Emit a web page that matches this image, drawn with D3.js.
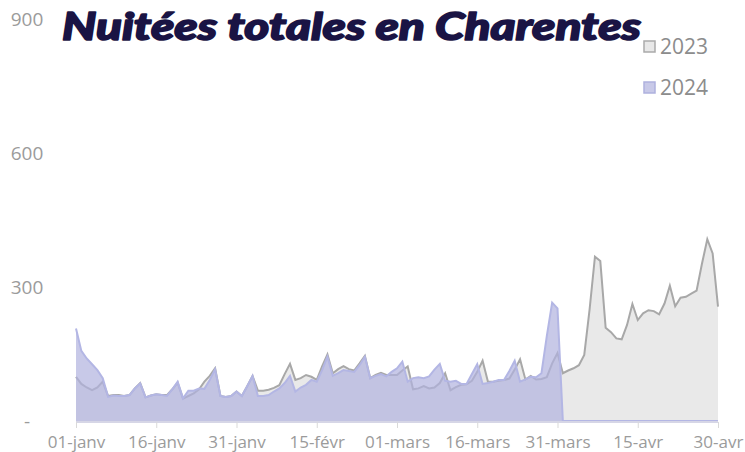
<!DOCTYPE html>
<html>
<head>
<meta charset="utf-8">
<script src="https://cdn.jsdelivr.net/npm/d3@7"></script>
<style>
  body { margin: 0; background: #fff; }
  text { font-family: "Open Sans", "Noto Sans", sans-serif; }
</style>
</head>
<body>
<div id="chart"></div>
<script>
// nuitées par jour, 01-janv -> 30-avr
var series2023 = [
  99, 83, 75, 69, 75, 88, 56, 58, 58, 56,
  58, 73, 85, 53, 57, 60, 58, 58, 71, 86,
  50, 56, 62, 71, 88, 101, 118, 56, 54, 56,
  66, 56, 78, 101, 68, 68, 70, 74, 80, 105,
  128, 92, 96, 103, 99, 92, 122, 149, 107, 116,
  123, 116, 113, 129, 146, 96, 103, 108, 103, 103,
  103, 113, 122, 71, 73, 78, 73, 75, 85, 107,
  69, 76, 81, 82, 90, 110, 135, 88, 88, 90,
  92, 95, 115, 138, 93, 101, 93, 94, 98, 129,
  152, 107, 113, 118, 125, 148, 250, 368, 358, 209,
  199, 185, 183, 215, 262, 226, 241, 248, 246, 239,
  263, 303, 257, 276, 278, 285, 292, 352, 407, 375,
  256
];
var series2024 = [
  207, 157, 140, 127, 114, 96, 54, 57, 56, 56,
  58, 73, 84, 53, 57, 60, 58, 56, 71, 88,
  51, 68, 68, 73, 72, 92, 116, 56, 54, 56,
  66, 56, 78, 101, 56, 56, 58, 66, 73, 85,
  101, 66, 75, 81, 92, 88, 114, 144, 101, 107,
  114, 112, 110, 125, 144, 96, 101, 105, 100, 110,
  118, 133, 88, 96, 98, 96, 100, 115, 128, 90,
  88, 90, 83, 83, 105, 127, 83, 85, 88, 92,
  92, 112, 135, 88, 93, 99, 98, 107, 190, 265,
  252, 0, 0, 0, 0, 0, 0, 0, 0, 0,
  0, 0, 0, 0, 0, 0, 0, 0, 0, 0,
  0, 0, 0, 0, 0, 0, 0, 0, 0, 0,
  0
];
var tickLabels = ["01-janv", "16-janv", "31-janv", "15-févr", "01-mars", "16-mars", "31-mars", "15-avr", "30-avr"];
var yTicks = [0, 300, 600, 900];
var years = ["2023", "2024"];

var width = 745, height = 452;
var start = new Date(Date.UTC(2024, 0, 1));
var days = d3.utcDay.range(start, new Date(Date.UTC(2024, 4, 1)));
var tickDates = days.filter(function(d, i) { return i % 15 === 0; });

var x = d3.scaleUtc()
  .domain([days[0], days[days.length - 1]])
  .range([76, 718]);

var y = d3.scaleLinear()
  .domain([0, 900])
  .range([421, 19]);

var svg = d3.select("#chart").append("svg")
  .attr("width", width)
  .attr("height", height);

// y labels, le zéro s'affiche "-"
svg.append("g").selectAll("text")
  .data(yTicks)
  .enter().append("text")
    .attr("x", 27)
    .attr("y", function(d) { return y(d); })
    .attr("dy", "0.35em")
    .attr("text-anchor", "middle")
    .style("font-size", "19px")
    .style("fill", "#9b9b9b")
    .text(function(d) { return d === 0 ? "-" : d; });

var area = d3.area()
  .x(function(d, i) { return x(days[i]); })
  .y0(y(0))
  .y1(function(d) { return y(d); });

var line = d3.line()
  .x(function(d, i) { return x(days[i]); })
  .y(function(d) { return y(d); });

var plot = svg.append("g");

plot.append("path")
  .datum(series2023)
  .attr("d", area)
  .style("fill", "#e9e9e9");

plot.append("path")
  .datum(series2023)
  .attr("d", line)
  .style("fill", "none")
  .style("stroke", "#a8a8a8")
  .style("stroke-width", 2);

plot.append("path")
  .datum(series2024)
  .attr("d", area)
  .style("fill", "#b0b2de")
  .style("fill-opacity", 0.7);

plot.append("path")
  .datum(series2024)
  .attr("d", line)
  .style("fill", "none")
  .style("stroke", "#b3b6e4")
  .style("stroke-width", 2);

// x axis
var xAxis = svg.append("g")
  .attr("transform", "translate(0," + 422 + ")")
  .call(d3.axisBottom(x)
    .tickValues(tickDates)
    .tickSize(6)
    .tickFormat(function(d, i) { return tickLabels[i]; }));

xAxis.select(".domain").style("stroke", "#d6d6e6").style("stroke-width", 2).attr("d", "M76,0H718");
xAxis.selectAll(".tick line").style("stroke", "#d9d9d9");
xAxis.selectAll(".tick text")
  .attr("y", 14)
  .style("font-family", "'Open Sans', sans-serif")
  .style("font-size", "17px")
  .style("fill", "#9b9b9b");

// title
svg.append("text")
  .attr("x", 62)
  .attr("y", 40)
  .attr("textLength", 579)
  .attr("lengthAdjust", "spacingAndGlyphs")
  .style("font-family", "Lato, 'Open Sans', sans-serif")
  .style("font-weight", 900)
  .style("font-style", "italic")
  .style("font-size", "38px")
  .style("fill", "#1a1444")
  .style("stroke", "#1a1444")
  .style("stroke-width", 1.6)
  .style("stroke-linejoin", "round")
  .text("Nuitées totales en Charentes");

// legend
var legend = svg.append("g").selectAll("g")
  .data(years)
  .enter().append("g")
    .attr("transform", function(d, i) { return "translate(644," + (41 + i * 41) + ")"; });

legend.append("rect")
  .attr("width", 11)
  .attr("height", 11)
  .style("fill", function(d, i) { return i ? "#c8c9e8" : "#e8e8e8"; })
  .style("stroke", function(d, i) { return i ? "#aeb1de" : "#aaaaaa"; })
  .style("stroke-width", 1.5);

legend.append("text")
  .attr("x", 16)
  .attr("y", 6)
  .attr("dy", "0.35em")
  .style("font-size", "21px")
  .style("fill", "#8c8c8c")
  .text(function(d) { return d; });
</script>
</body>
</html>
